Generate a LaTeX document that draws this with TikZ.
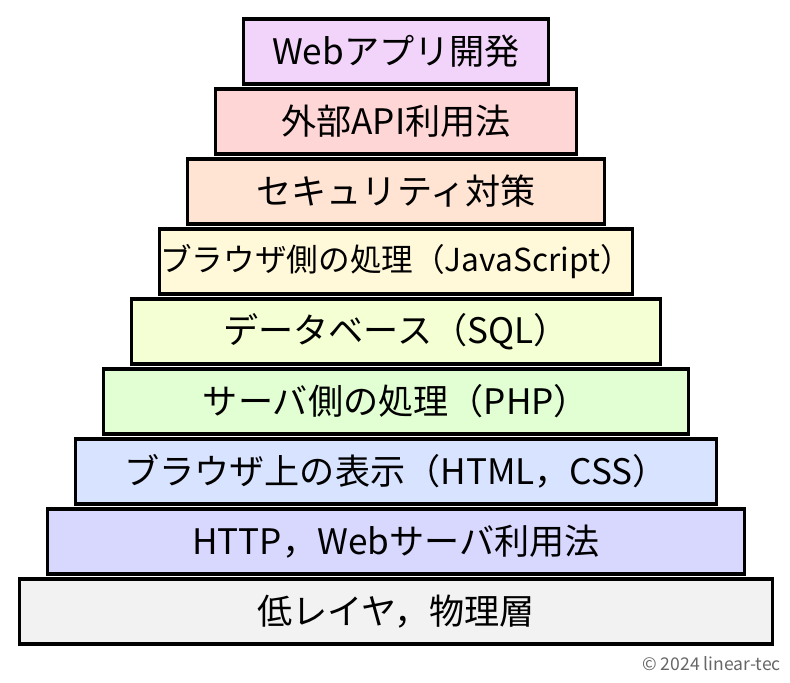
\documentclass[tikz,border=0pt]{standalone}
\usepackage{fontspec}
\setmainfont{Noto Sans CJK JP}
\definecolor{Layer-1}{RGB}{242,212,250}
\definecolor{Layer-2}{RGB}{255,214,214}
\definecolor{Layer-3}{RGB}{255,228,212}
\definecolor{Layer-4}{RGB}{255,249,218}
\definecolor{Layer-5}{RGB}{244,255,212}
\definecolor{Layer-6}{RGB}{226,255,212}
\definecolor{Layer-7}{RGB}{216,228,255}
\definecolor{Layer-8}{RGB}{216,216,255}
\definecolor{Layer-9}{RGB}{242,242,242}

\begin{document}
\begin{tikzpicture}[x=0.03cm, y=-0.03cm,
  layer/.style={draw=black, line width=2.6pt, minimum height=1.95cm, inner sep=0pt,
    font=\fontsize{30}{33}\selectfont}]
  \useasboundingbox (0,0) rectangle (790,683);

  \node[layer, fill=Layer-1, minimum width=9.16cm ] (web)  at (396, 51.5) {Webアプリ開発};
  \node[layer, fill=Layer-2, minimum width=10.84cm] (api)  at (396,121.5) {外部API利用法};
  \node[layer, fill=Layer-3, minimum width=12.52cm] (sec)  at (396,191.5) {セキュリティ対策};
  \node[layer, fill=Layer-4, minimum width=14.20cm, font=\fontsize{27}{30}\selectfont] (js) at (396,261.5) {ブラウザ側の処理（JavaScript）};
  \node[layer, fill=Layer-5, minimum width=15.88cm] (db)   at (396,331.5) {データベース（SQL）};
  \node[layer, fill=Layer-6, minimum width=17.56cm] (php)  at (396,401.5) {サーバ側の処理（PHP）};
  \node[layer, fill=Layer-7, minimum width=19.24cm] (html) at (396,471.5) {ブラウザ上の表示（HTML，CSS）};
  \node[layer, fill=Layer-8, minimum width=20.92cm] (http) at (396,541.5) {HTTP，Webサーバ利用法};
  \node[layer, fill=Layer-9, minimum width=22.60cm] (low)  at (396,611.5) {低レイヤ，物理層};

  \node[anchor=east, inner sep=0pt, text=black!60, font=\fontsize{15}{17}\selectfont] (copy) at (781,664) {© 2024 linear-tec};
\end{tikzpicture}
\end{document}
